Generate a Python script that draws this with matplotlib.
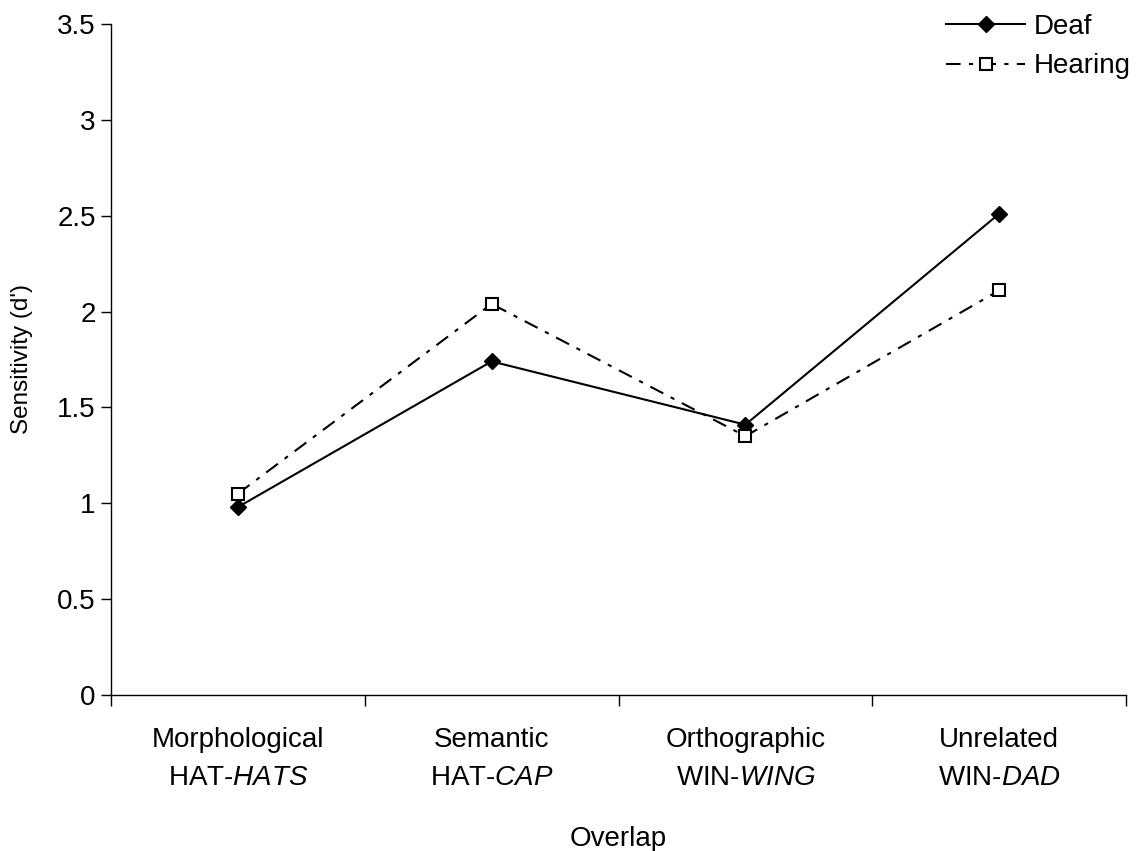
import matplotlib
matplotlib.use("Agg")
import matplotlib.pyplot as plt

plt.rcParams['font.family'] = ['Liberation Sans', 'DejaVu Sans']
plt.rcParams['mathtext.fontset'] = 'custom'
plt.rcParams['mathtext.rm'] = 'Liberation Sans'
plt.rcParams['mathtext.it'] = 'Liberation Sans:italic'

categories = ["Morphological", "Semantic", "Orthographic", "Unrelated"]
examples_plain = ["HAT-", "HAT-", "WIN-", "WIN-"]
examples_italic = ["HATS", "CAP", "WING", "DAD"]
deaf = [0.98, 1.74, 1.41, 2.51]
hearing = [1.05, 2.04, 1.35, 2.11]
yticks = [0, 0.5, 1, 1.5, 2, 2.5, 3, 3.5]
ytick_labels = ["0", "0.5", "1", "1.5", "2", "2.5", "3", "3.5"]

fig = plt.figure(figsize=(11.36, 8.51), dpi=100)
ax = fig.add_axes([111/1136, 1 - 695/851, (1126-111)/1136, (695-24)/851])

x = list(range(len(categories)))
ax.plot(x, deaf, color='black', lw=1.5, marker='D', ms=8.5, mfc='black', mec='black',
        label='Deaf', zorder=3)
ax.plot(x, hearing, color='black', lw=1.5, dashes=(7, 4, 2, 4), marker='s', ms=9,
        mfc='white', mec='black', mew=1.5, label='Hearing', zorder=3)

ax.set_xlim(-0.5, len(categories) - 0.5)
ax.set_ylim(0, 3.5)

for s in ['top', 'right']:
    ax.spines[s].set_visible(False)
for s in ['left', 'bottom']:
    ax.spines[s].set_linewidth(1.0)

ax.set_yticks(yticks)
ax.set_yticklabels(ytick_labels, fontsize=20)
ax.tick_params(axis='y', direction='out', length=7, width=1, pad=4)

# boundaries as major ticks, labels at minor positions
ax.set_xticks([i - 0.5 for i in range(len(categories) + 1)])
ax.set_xticklabels([])
ax.tick_params(axis='x', which='major', direction='out', length=8, width=1)
ax.set_xticks(x, minor=True)
labels = [f"{c}\n{p}$\\mathit{{{it}}}$" for c, p, it in zip(categories, examples_plain, examples_italic)]
ax.set_xticklabels(labels, minor=True, fontsize=20, linespacing=1.62)
ax.tick_params(axis='x', which='minor', length=0, pad=23)

ax.set_ylabel("Sensitivity (d')", fontsize=17.5, labelpad=17)
ax.set_xlabel("Overlap", fontsize=20, labelpad=25)

leg = ax.legend(loc='upper right', bbox_to_anchor=(1.0, 1.0 - 8/851), bbox_transform=fig.transFigure,
                frameon=False, fontsize=20, handlelength=2.85, handletextpad=0.3,
                labelspacing=0.5, borderaxespad=0.0, borderpad=0.2)

fig.savefig("out.png", dpi=100)
